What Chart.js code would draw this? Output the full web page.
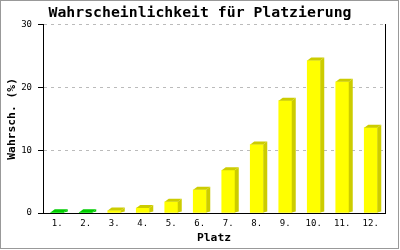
<!DOCTYPE html>
<html>
<head>
<meta charset="utf-8">
<script src="https://cdn.jsdelivr.net/npm/chart.js@4"></script>
<style>
  html, body { margin: 0; padding: 0; background: #fff; }
  #wrap { width: 400px; height: 250px; }
</style>
</head>
<body>
<div id="wrap"><canvas id="chart" width="400" height="250"></canvas></div>
<script>
// Daten
const platzLabels = ['1.', '2.', '3.', '4.', '5.', '6.', '7.', '8.', '9.', '10.', '11.', '12.'];
const wahrscheinlichkeit = [0.1, 0.1, 0.4, 0.8, 1.8, 3.7, 6.8, 10.9, 17.9, 24.3, 20.9, 13.6];
const gruenePlaetze = [0, 1];
const yTicks = [0, 10, 20, 30];

const frontColors = platzLabels.map((l, i) => gruenePlaetze.includes(i) ? '#00ee00' : '#ffff00');
const sideColors = platzLabels.map((l, i) => gruenePlaetze.includes(i) ? '#00cc00' : '#cccc00');

// 3D-Effekt: Seite und Deckel der Balken
const bar3d = {
  id: 'bar3d',
  afterDatasetsDraw(chart) {
    const ctx = chart.ctx;
    const meta = chart.getDatasetMeta(0);
    const dx = 4, dy = 3;
    meta.data.forEach((bar, i) => {
      const l = bar.x - bar.width / 2;
      const r = bar.x + bar.width / 2;
      const top = bar.y;
      const base = bar.base;
      ctx.save();
      ctx.fillStyle = sideColors[i];
      // Deckel
      ctx.beginPath();
      ctx.moveTo(l, top);
      ctx.lineTo(l + dx, top - dy);
      ctx.lineTo(r + dx, top - dy);
      ctx.lineTo(r, top);
      ctx.closePath();
      ctx.fill();
      // Seite
      ctx.beginPath();
      ctx.moveTo(r, top);
      ctx.lineTo(r + dx, top - dy);
      ctx.lineTo(r + dx, base - 1);
      ctx.lineTo(r, base);
      ctx.closePath();
      ctx.fill();
      ctx.restore();
    });
  },
  afterDraw(chart) {
    const ctx = chart.ctx;
    ctx.save();
    // äußerer Rahmen
    ctx.strokeStyle = '#999';
    ctx.lineWidth = 1;
    ctx.strokeRect(0.5, 0.5, 398, 248);
    ctx.restore();
  }
};

const ctx = document.getElementById('chart').getContext('2d');
new Chart(ctx, {
  type: 'bar',
  data: {
    labels: platzLabels,
    datasets: [{
      data: wahrscheinlichkeit,
      backgroundColor: frontColors,
      borderWidth: 0,
      barThickness: 13
    }]
  },
  options: {
    responsive: false,
    animation: false,
    layout: { padding: 0 },
    plugins: {
      legend: { display: false },
      tooltip: { enabled: false },
      title: {
        display: true,
        text: 'Wahrscheinlichkeit für Platzierung',
        color: '#000',
        font: { family: 'DejaVu Sans Mono', size: 14.8, weight: 'bold', lineHeight: 1.2 },
        padding: { top: 4, bottom: 3 }
      }
    },
    scales: {
      x: {
        afterFit(scale) { scale.height = 37; },
        grid: { display: false, drawTicks: false },
        border: { display: true, color: '#000', width: 1 },
        ticks: {
          color: '#000',
          padding: 5,
          maxRotation: 0,
          font: { family: 'DejaVu Sans Mono', size: 9 }
        },
        title: {
          display: true,
          text: 'Platz',
          color: '#000',
          font: { family: 'DejaVu Sans Mono', size: 11.3, weight: 'bold', lineHeight: 1.2 },
          padding: { top: 0, bottom: 5 }
        }
      },
      y: {
        min: 0,
        max: 30,
        afterFit(scale) { scale.width = 43; },
        afterBuildTicks(scale) { scale.ticks = yTicks.map(v => ({ value: v })); },
        grid: {
          color: ctx => ctx.tick && ctx.tick.value === 0 ? 'rgba(0,0,0,0)' : '#bbbbbb',
          tickColor: '#000',
          tickLength: 5,
          lineWidth: 1
        },
        border: { display: true, color: '#000', width: 1, dash: [3, 4] },
        ticks: {
          color: '#000',
          padding: 6,
          font: { family: 'DejaVu Sans Mono', size: 9 }
        },
        title: {
          display: true,
          text: 'Wahrsch. (%)',
          color: '#000',
          font: { family: 'DejaVu Sans Mono', size: 11.3, weight: 'bold', lineHeight: 1.2 },
          padding: { top: 5, bottom: 0 }
        }
      },
      // rechter Rand: nur die schwarze Linie
      y2: {
        position: 'right',
        display: true,
        min: 0,
        max: 30,
        afterFit(scale) { scale.width = 15; },
        grid: { display: false, drawTicks: false, drawOnChartArea: false },
        border: { display: true, color: '#000', width: 1 },
        ticks: { display: false }
      }
    }
  },
  plugins: [bar3d]
});
</script>
</body>
</html>
